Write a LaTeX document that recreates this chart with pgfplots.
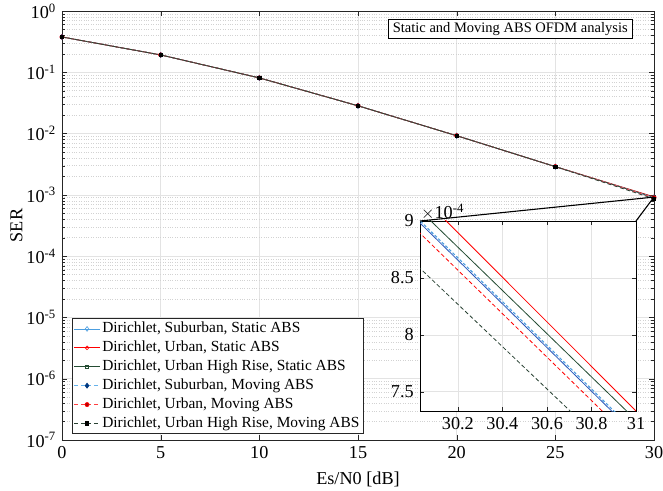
\documentclass[border=0pt]{standalone}
\usepackage{pgfplots}
\usepackage{pgfplotstable}
\pgfplotsset{compat=1.18}
\usepackage{fontspec}
\setmainfont{Liberation Serif}

\definecolor{cSubS}{rgb}{0.30,0.62,0.88}
\definecolor{cSubM}{rgb}{0.40,0.70,0.92}
\definecolor{cSubMk}{rgb}{0.00,0.22,0.50}
\definecolor{cUrbS}{rgb}{1.00,0.00,0.00}
\definecolor{cUrbM}{rgb}{1.00,0.25,0.25}
\definecolor{cUrbMk}{rgb}{0.70,0.00,0.00}
\definecolor{cHrS}{rgb}{0.14,0.30,0.20}
\definecolor{cHrM}{rgb}{0.16,0.26,0.20}
\definecolor{axgray}{rgb}{0.15,0.15,0.15}

\newcommand{\fbig}{\fontsize{18.2}{22}\selectfont}
\newcommand{\fleg}{\fontsize{15.4}{18.5}\selectfont}

\pgfplotstableread{
x s1 s2 s3 s4 s5 s6
0 0.377 0.377 0.377 0.377 0.377 0.377
5 0.192 0.192 0.192 0.192 0.192 0.192
10 0.081 0.081 0.081 0.081 0.081 0.081
15 0.0284 0.0284 0.0284 0.0284 0.0284 0.0284
20 0.00923 0.00923 0.00923 0.00923 0.00923 0.00923
25 0.00289 0.00289 0.00289 0.00289 0.00289 0.00289
30 9.04e-4 9.29e-4 9.15e-4 9.06e-4 8.95e-4 8.64e-4
31 7.12e-4 7.33e-4 7.25e-4 7.14e-4 7.04e-4 6.78e-4
}\serdata

\begin{document}
\fbig
\begin{tikzpicture}[font=\fbig]
\path[use as bounding box] (-62pt,-50pt) rectangle (601pt,440pt);
\pgfplotsset{
  /pgf/number format/assume math mode=true,
  filter discard warning=false,
}
\begin{axis}[
  name=main,
  scale only axis,
  width=592pt, height=429pt,
  at={(0,0)}, anchor=south west,
  font=\fbig,
  tick label style={font=\fbig},
  label style={font=\fbig},
  ymode=log,
  xmin=0, xmax=30, ymin=1e-7, ymax=1,
  xtick={0,5,...,30},
  ytick={1e-7,1e-6,1e-5,1e-4,1e-3,1e-2,1e-1,1},
  yticklabels={10\textsuperscript{-7},10\textsuperscript{-6},10\textsuperscript{-5},10\textsuperscript{-4},10\textsuperscript{-3},10\textsuperscript{-2},10\textsuperscript{-1},10\textsuperscript{0}},
  xmajorgrids, ymajorgrids, yminorgrids,
  major grid style={gray!22, line width=0.5pt},
  minor grid style={gray!35, dotted, line width=0.5pt},
  axis line style={axgray, line width=0.6pt},
  tick style={axgray},
  major tick length=5pt, minor tick length=3pt,
  tick align=inside,
  xlabel={Es/N0 [dB]}, ylabel={SER},
  xticklabel style={yshift=0pt},
  xlabel style={at={(axis description cs:0.5,-0.091)}, anchor=center},
  ylabel style={at={(axis description cs:-0.077,0.5)}, anchor=center},
  restrict x to domain=0:30,
  clip=false,
  legend cell align=left,
  legend image code/.code={\draw[mark repeat=2,mark phase=2] plot coordinates {(0cm,0cm) (0.45cm,0cm) (0.9cm,0cm)};},
  legend style={at={(0.017,0.014)}, anchor=south west, draw=axgray, line width=0.6pt,
    font=\fleg, inner sep=1.5pt, row sep=1.5pt,
    nodes={font=\fleg},
    /tikz/every even column/.append style={column sep=0pt}},
]
\addplot[cSubS, line width=0.8pt, mark=diamond, mark size=2.4pt, mark options={solid, line width=0.6pt}] table[x=x,y=s1]{\serdata};
\addlegendentry{Dirichlet, Suburban, Static ABS}
\addplot[cUrbS, line width=0.8pt, mark=o, mark size=1.9pt, mark options={solid, line width=0.6pt}] table[x=x,y=s2]{\serdata};
\addlegendentry{Dirichlet, Urban, Static ABS}
\addplot[cHrS, line width=0.8pt, mark=square, mark size=1.6pt, mark options={solid, line width=0.6pt}] table[x=x,y=s3]{\serdata};
\addlegendentry{Dirichlet, Urban High Rise, Static ABS}
\addplot[cSubM, line width=0.8pt, dash pattern=on 4pt off 2.5pt, mark=diamond*, mark size=2.4pt, mark options={solid, draw=cSubMk, fill=cSubMk}] table[x=x,y=s4]{\serdata};
\addlegendentry{Dirichlet, Suburban, Moving ABS}
\addplot[cUrbM, line width=0.8pt, dash pattern=on 4pt off 2.5pt, mark=*, mark size=2pt, mark options={solid, draw=cUrbS, fill=cUrbMk}] table[x=x,y=s5]{\serdata};
\addlegendentry{Dirichlet, Urban, Moving ABS}
\addplot[cHrM, line width=0.8pt, dash pattern=on 4pt off 2.5pt, mark=square*, mark size=1.7pt, mark options={solid, draw=black, fill=black}] table[x=x,y=s6]{\serdata};
\addlegendentry{Dirichlet, Urban High Rise, Moving ABS}
\coordinate (pt) at (axis cs:30,9.2e-4);
\node[draw=black, line width=0.6pt, fill=white, anchor=north east, inner xsep=5pt, inner ysep=3pt,
  font=\fontsize{14.5}{17}\selectfont] at (rel axis cs:0.9645,0.981) {Static and Moving ABS OFDM analysis};
\end{axis}

\begin{axis}[
  name=ins,
  scale only axis,
  width=216pt, height=190pt,
  at={(358pt,29pt)}, anchor=south west,
  font=\fbig,
  tick label style={font=\fbig},
  xmin=30.03, xmax=31, ymin=7.33e-4, ymax=9.0e-4,
  restrict x to domain=29.5:31.5,
  xtick={30.2,30.4,30.6,30.8,31},
  xticklabels={30.2,30.4,30.6,30.8,31},
  ytick={7.5e-4,8e-4,8.5e-4,9e-4},
  yticklabels={7.5,8,8.5,9},
  scaled y ticks=false,
  xmajorgrids, ymajorgrids,
  major grid style={gray!22, line width=0.5pt},
  axis line style={black, line width=0.9pt},
  tick style={axgray},
  major tick length=4pt,
  tick align=inside,
  axis background/.style={fill=white},
  no markers,
]
\addplot[cSubS!70!blue!80!black, line width=0.8pt] table[x=x,y=s1]{\serdata};
\addplot[cUrbS, line width=0.8pt] table[x=x,y=s2]{\serdata};
\addplot[cHrS, line width=0.8pt] table[x=x,y=s3]{\serdata};
\addplot[cSubS, line width=1.1pt, dash pattern=on 3pt off 2pt] table[x=x,y=s4]{\serdata};
\addplot[cUrbS, line width=0.8pt, dash pattern=on 4pt off 2.5pt] table[x=x,y=s5]{\serdata};
\addplot[cHrM, line width=0.8pt, dash pattern=on 4pt off 2.5pt] table[x=x,y=s6]{\serdata};
\end{axis}
\node[anchor=south west, inner sep=1pt, font=\fbig] at (ins.north west) {$\times$10\textsuperscript{-4}};
\draw[black, line width=1.1pt] (ins.north west) -- (pt);
\draw[black, line width=1.1pt] (ins.north east) -- (pt);
\end{tikzpicture}
\end{document}
